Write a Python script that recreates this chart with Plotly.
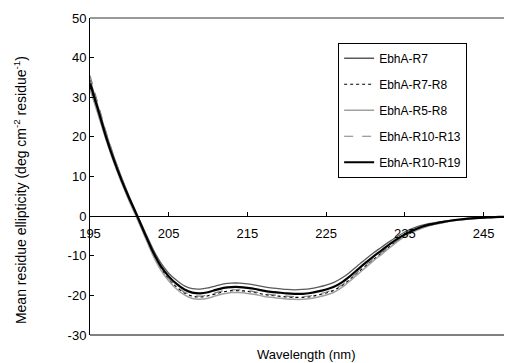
import plotly.graph_objects as go

wavelength = list(range(195, 251))

r7 = [34.5, 27.8, 21.2, 15.2, 9.8, 4.9, 0.4, -4.0, -8.3, -11.8, -14.4, -16.2, -17.6, -18.3, -18.4, -18.1,
      -17.6, -17.1, -16.9, -16.9, -17.1, -17.4, -17.8, -18.1, -18.3, -18.5, -18.6, -18.5, -18.3, -17.9,
      -17.4, -16.7, -15.6, -14.2, -12.5, -10.9, -9.3, -7.9, -6.5, -5.2, -4.0, -3.1, -2.4, -1.9, -1.6,
      -1.3, -1.0, -0.8, -0.6, -0.45, -0.35, -0.25, -0.2, -0.15, -0.1, -0.05]

r7_r8 = [32.5, 26.2, 19.8, 14.0, 8.8, 4.0, -0.4, -5.0, -9.6, -13.2, -15.9, -17.9, -19.4, -20.2, -20.4, -20.1,
         -19.6, -19.1, -18.8, -18.8, -19.0, -19.3, -19.7, -20.0, -20.2, -20.4, -20.5, -20.5, -20.3, -19.9,
         -19.4, -18.7, -17.6, -16.0, -14.3, -12.6, -11.0, -9.4, -7.8, -6.3, -5.0, -3.9, -3.1, -2.4, -1.9,
         -1.5, -1.2, -0.9, -0.7, -0.55, -0.42, -0.32, -0.22, -0.16, -0.1, -0.05]

r5_r8 = [32.0, 25.8, 19.5, 13.7, 8.5, 3.7, -0.7, -5.3, -9.9, -13.6, -16.3, -18.4, -19.9, -20.8, -21.0, -20.7,
         -20.1, -19.6, -19.3, -19.3, -19.5, -19.8, -20.2, -20.5, -20.7, -20.9, -21.0, -21.0, -20.8, -20.4,
         -19.9, -19.2, -18.0, -16.4, -14.7, -13.0, -11.3, -9.7, -8.1, -6.5, -5.1, -4.0, -3.2, -2.5, -2.0,
         -1.6, -1.2, -0.95, -0.75, -0.57, -0.44, -0.33, -0.23, -0.16, -0.1, -0.05]

r10_r13 = [35.5, 28.5, 21.5, 15.3, 9.7, 4.6, -0.1, -4.8, -9.3, -13.0, -15.7, -17.7, -19.2, -20.0, -20.2, -19.9,
           -19.3, -18.8, -18.6, -18.6, -18.8, -19.1, -19.5, -19.8, -20.0, -20.2, -20.3, -20.3, -20.1, -19.7,
           -19.2, -18.5, -17.4, -15.8, -14.1, -12.4, -10.8, -9.2, -7.7, -6.2, -4.9, -3.8, -3.0, -2.3, -1.9,
           -1.5, -1.15, -0.9, -0.7, -0.52, -0.4, -0.3, -0.21, -0.15, -0.1, -0.05]

r10_r19 = [33.5, 27.0, 20.2, 14.3, 9.1, 4.4, 0.0, -4.6, -9.0, -12.6, -15.2, -17.1, -18.5, -19.3, -19.5, -19.2,
           -18.6, -18.1, -17.9, -17.9, -18.1, -18.4, -18.8, -19.1, -19.3, -19.5, -19.6, -19.6, -19.4, -19.0,
           -18.5, -17.8, -16.7, -15.2, -13.5, -11.8, -10.2, -8.7, -7.2, -5.8, -4.6, -3.6, -2.8, -2.2, -1.8,
           -1.4, -1.1, -0.85, -0.65, -0.5, -0.4, -0.3, -0.2, -0.15, -0.1, -0.05]

series = [
    ("EbhA-R7", r7, "#5a5a5a", "solid", 1.3),
    ("EbhA-R7-R8", r7_r8, "#000000", "dot", 1.2),
    ("EbhA-R5-R8", r5_r8, "#a0a0a0", "solid", 1.5),
    ("EbhA-R10-R13", r10_r13, "#808080", "dash", 1.2),
    ("EbhA-R10-R19", r10_r19, "#000000", "solid", 2.2),
]

x_ticks = [195, 205, 215, 225, 235, 245]
y_ticks = [-30, -20, -10, 0, 10, 20, 30, 40, 50]

fig = go.Figure()
for i, (name, vals, color, dash, w) in enumerate(series):
    fig.add_trace(go.Scatter(
        x=wavelength, y=vals, name=name, mode="lines",
        line=dict(color=color, dash=dash, width=w, shape="spline", smoothing=0.6),
        legendgroup=name,
    ))

FAM = "Liberation Sans, Arial, sans-serif"
font = dict(family=FAM, size=13, color="#000000")

fig.update_layout(
    width=504, height=355,
    margin=dict(l=82, r=0, t=10, b=28),
    paper_bgcolor="white", plot_bgcolor="white",
    font=font,
    showlegend=True,
    legend=dict(
        x=0.588, y=0.922, xanchor="left", yanchor="top",
        bordercolor="#000000", borderwidth=1, bgcolor="white",
        font=dict(family=FAM, size=12, color="#000000"),
        tracegroupgap=7, itemwidth=30,
    ),
    xaxis=dict(
        range=[195, 248.62], tickvals=x_ticks, ticktext=[str(t) for t in x_ticks],
        showgrid=False, zeroline=False, showline=True, linecolor="#000000", linewidth=1,
        ticks="inside", ticklen=4, tickcolor="#000000",
        anchor="free", position=0.375, ticklabelstandoff=5,
        tickfont=font,
    ),
    yaxis=dict(
        range=[-30, 50], tickvals=y_ticks, ticktext=[str(t) for t in y_ticks],
        showgrid=False, zeroline=False, showline=True, linecolor="#000000", linewidth=1,
        ticks="inside", ticklen=4, tickcolor="#000000",
        tickfont=font,
    ),
    shapes=[
        dict(type="line", xref="paper", yref="paper", x0=0, x1=1.0, y0=1, y1=1,
             line=dict(color="#333333", width=1)),
        dict(type="line", xref="paper", yref="paper", x0=0, x1=1.0, y0=0, y1=0,
             line=dict(color="#000000", width=1)),
    ],
    annotations=[
        dict(text="Mean residue ellipticity (deg cm<sup>-2</sup> residue<sup>-1</sup>)",
             xref="paper", yref="paper", x=-0.166, y=0.457, textangle=-90,
             showarrow=False, xanchor="center", yanchor="middle",
             font=dict(family=FAM, size=14, color="#000000")),
        dict(text="Wavelength (nm)", xref="paper", yref="paper", x=0.512, y=-0.063,
             showarrow=False, xanchor="center", yanchor="middle",
             font=dict(family=FAM, size=13, color="#000000")),
    ],
)

fig.write_html("out.html")
